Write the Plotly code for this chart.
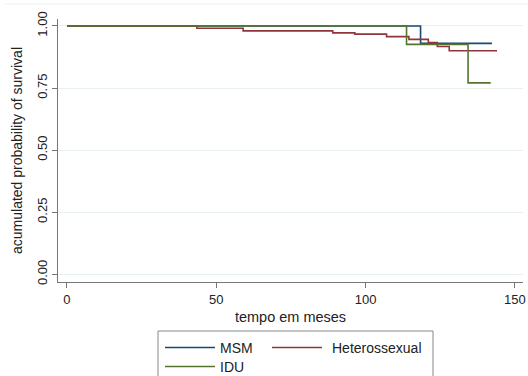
import plotly.graph_objects as go

# Kaplan-Meier step data
msm_t = [0, 118.4, 142.3]
msm_s = [1.0, 0.930, 0.930]

het_t = [0, 43.5, 59, 89, 96.4, 107, 114.5, 121, 124, 128, 144]
het_s = [1.0, 0.991, 0.980, 0.972, 0.967, 0.957, 0.946, 0.933, 0.917, 0.900, 0.900]

idu_t = [0, 113.7, 134.3, 141.9]
idu_s = [1.0, 0.926, 0.771, 0.771]

series_names = ["MSM", "Heterossexual", "IDU"]
series_colors = ["#1a476f", "#90353b", "#55752f"]

x_ticks = [0, 50, 100, 150]
y_ticks = [0.0, 0.25, 0.5, 0.75, 1.0]
y_tick_text = ["0.00", "0.25", "0.50", "0.75", "1.00"]

FONT = "Liberation Sans, Arial, sans-serif"
W, H = 528, 376
ML, MR, MT, MB = 58, 5, 19, 94
PW, PH = W - ML - MR, H - MT - MB

fig = go.Figure()
for t, s, name, col in zip([msm_t, het_t, idu_t], [msm_s, het_s, idu_s], series_names, series_colors):
    fig.add_trace(go.Scatter(x=t, y=s, mode="lines", name=name, line=dict(color=col, width=1.6, shape="hv"),
                             showlegend=False, hoverinfo="skip"))

fig.update_layout(
    width=W, height=H,
    margin=dict(l=ML, r=MR, t=MT, b=MB, autoexpand=False),
    paper_bgcolor="white", plot_bgcolor="white",
    font=dict(family=FONT, color="#222222"),
)
fig.update_xaxes(
    range=[-3.0, 152.7], tickvals=x_ticks, ticks="outside", ticklen=5, tickcolor="#777777",
    showline=True, linecolor="#777777", linewidth=1, showgrid=False, zeroline=False,
    tickfont=dict(size=13, family=FONT, color="#222222"),
    title=dict(text="tempo em meses", font=dict(size=14.5, family=FONT, color="#222222"), standoff=6),
)
fig.update_yaxes(
    range=[-0.031, 1.028], tickvals=y_ticks, ticktext=y_tick_text, tickangle=-90,
    ticks="outside", ticklen=5, tickcolor="#777777",
    showline=True, linecolor="#777777", linewidth=1, showgrid=True, gridcolor="#e8f0f2", gridwidth=1,
    zeroline=False,
    tickfont=dict(size=13, family=FONT, color="#222222"),
    title=dict(text="acumulated probability of survival", font=dict(size=14, family=FONT, color="#222222"), standoff=8),
)

# convert figure pixels to paper (plot-area) fractions
def px_x(p):
    return (p - ML) / PW

def px_y(p):
    return (H - MB - p) / PH

# faint outer frame line at top
fig.add_shape(type="line", xref="paper", yref="paper", x0=px_x(5), x1=px_x(W), y0=px_y(4), y1=px_y(4),
              line=dict(color="#eef2f3", width=1))

# manual legend (Stata style)
box_l, box_r, box_t, box_b = 158, 433, 331, 392
fig.add_shape(type="rect", xref="paper", yref="paper",
              x0=px_x(box_l), x1=px_x(box_r), y0=px_y(box_b), y1=px_y(box_t),
              line=dict(color="#888888", width=1), fillcolor="white")
entries = [(165, 347.5), (272, 347.5), (165, 366.5)]
for (lx, ly), name, col in zip(entries, series_names, series_colors):
    fig.add_shape(type="line", xref="paper", yref="paper", x0=px_x(lx), x1=px_x(lx + 50),
                  y0=px_y(ly), y1=px_y(ly), line=dict(color=col, width=1.3))
    tx = lx + 53 if name != "Heterossexual" else lx + 58
    fig.add_annotation(xref="paper", yref="paper", x=px_x(tx), y=px_y(ly), text=name, showarrow=False,
                       xanchor="left", yanchor="middle", font=dict(size=14, family=FONT, color="#222222"))

fig.write_html("out.html")
